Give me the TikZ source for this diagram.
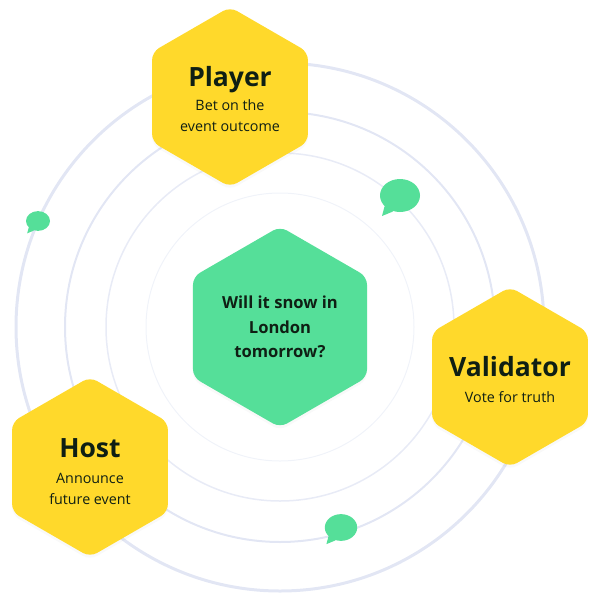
\documentclass[tikz,border=0pt]{standalone}
\usepackage{fontspec}
\setmainfont{Open Sans}
\usetikzlibrary{shapes.geometric,shadows}
\definecolor{hexyellow}{HTML}{FFD92B}
\definecolor{hexgreen}{HTML}{55DF99}
\definecolor{ringblue}{HTML}{E2E6F4}
\definecolor{inkdark}{HTML}{0F1F14}
\newcommand{\roletitle}[2][25pt]{\makebox[0pt]{\rule{0pt}{#1}\fontsize{26.5}{30}\selectfont\bfseries #2}}
\tikzset{
	hexbox/.style={regular polygon, regular polygon sides=6, regular polygon rotate=30, minimum size=180pt, inner sep=0pt,
		rounded corners=8pt, text=inkdark, align=center, font=\fontsize{14.3}{21}\selectfont,
		drop shadow={opacity=0.05, shadow xshift=0pt, shadow yshift=-3pt}},
	rolehex/.style={hexbox, fill=hexyellow},
	questionhex/.style={hexbox, fill=hexgreen, minimum size=201pt, font=\fontsize{16.6}{24.5}\selectfont\bfseries},
	bubble/.style={fill=hexgreen},
}
\begin{document}
\begin{tikzpicture}[x=1pt, y=-1pt, line join=round, line cap=round]
	\useasboundingbox (0,0) rectangle (600,592);
	\coordinate (O) at (280,327);
	
	%rings
	\draw[ringblue, line width=3pt] (O) circle (264);
	\draw[ringblue, line width=2pt] (O) circle (215);
	\draw[ringblue!80, line width=1.5pt] (O) circle (174);
	\draw[ringblue!50, line width=1pt] (O) circle (134);
	
	%hexagons
	\node[questionhex] (question) at (O) {Will it snow in\\London\\tomorrow?};
	\node[rolehex] (player) at (230,97) {\roletitle{Player}\\[3pt]Bet on the\\event outcome};
	\node[rolehex] (validator) at (510,377) {\roletitle{Validator}\\[5pt]Vote for truth};
	\node[rolehex] (host) at (90,467) {\roletitle[29pt]{Host}\\[5pt]Announce\\future event};
	
	%speech bubbles
	\foreach \bx/\by/\bs in {400/195.5/1, 341/527.5/0.81, 38/221/0.6}{
		\fill[bubble, shift={(\bx,\by)}, scale=\bs] (0,0) ellipse [x radius=20, y radius=16.5]
			(-15.5,11) -- (-18,20.5) -- (-7,16) -- cycle;
	}
\end{tikzpicture}
\end{document}
